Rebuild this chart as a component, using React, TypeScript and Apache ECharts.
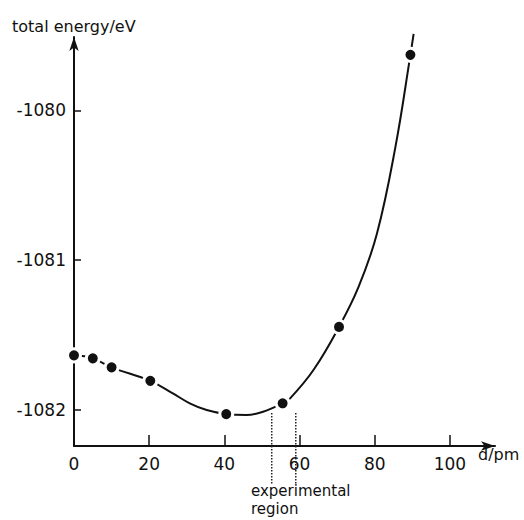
import React, { useEffect, useRef } from "react";
import * as echarts from "echarts";

// computed points (d / pm, total energy / eV)
const pointX = [0, 5, 10, 20.3, 40.5, 55.5, 70.5, 89.5];
const pointY = [-1081.635, -1081.655, -1081.715, -1081.805, -1082.027, -1081.955, -1081.445, -1079.629];

// drawn smooth curve
const curveX = [0, 5, 10, 20.3, 26.3, 30.8, 35.3, 40.5, 45.9, 50.3, 55.5, 57.5, 63.7, 70.5, 75.7, 80.6, 85.5, 89.5, 90.35];
const curveY = [
  -1081.635, -1081.655, -1081.715, -1081.805, -1081.889, -1081.955, -1082.0, -1082.027, -1082.033,
  -1082.011, -1081.955, -1081.922, -1081.733, -1081.445, -1081.178, -1080.822, -1080.245, -1079.629,
  -1079.489,
];

// experimental region boundaries (d / pm)
const regionX = [52.6, 59];
const regionTopY = [-1082.02, -1082.02];
const regionBottomY = -1082.49;

const yTicks = [-1082, -1081, -1080];
const xTickInterval = 20;

const FONT = "DejaVu Sans";

export default function App() {
  const ref = useRef<HTMLDivElement>(null);

  useEffect(() => {
    if (!ref.current) return;
    const chart = echarts.init(ref.current, undefined, { renderer: "svg" });
    const black = "#111";

    const regionSeries = regionX.map((x, i) => ({
      type: "line",
      data: [
        [x, regionTopY[i]],
        [x, regionBottomY],
      ],
      symbol: "none",
      clip: false,
      silent: true,
      lineStyle: { color: "#222", width: 1.5, type: "dotted" },
      z: 1,
    }));

    chart.setOption({
      animation: false,
      backgroundColor: "#fff",
      grid: { left: 74, right: 29, top: 37, bottom: 74 },
      xAxis: {
        type: "value",
        min: 0,
        max: 112,
        interval: xTickInterval,
        name: "d/pm",
        nameLocation: "end",
        nameGap: -17,
        nameTextStyle: {
          fontFamily: FONT,
          fontSize: 16,
          color: black,
          align: "left",
          verticalAlign: "top",
        },
        axisLine: {
          show: true,
          onZero: false,
          symbol: ["none", "arrow"],
          symbolSize: [7, 14],
          lineStyle: { color: black, width: 2 },
        },
        axisTick: { show: true, inside: true, length: 11, lineStyle: { color: black, width: 1.5 } },
        axisLabel: {
          fontFamily: FONT,
          fontSize: 17,
          color: black,
          margin: 9,
          showMaxLabel: false,
          formatter: (v: number) => (v > 100 ? "" : String(v)),
        },
        splitLine: { show: false },
      },
      yAxis: {
        type: "value",
        min: -1082.24,
        max: -1079.51,
        name: "total energy/eV",
        nameLocation: "end",
        nameGap: 11,
        nameTextStyle: {
          fontFamily: FONT,
          fontSize: 16,
          color: black,
          align: "left",
          verticalAlign: "middle",
          padding: [0, 0, 0, -62],
        },
        axisLine: {
          show: true,
          onZero: false,
          symbol: ["none", "arrow"],
          symbolSize: [7, 14],
          lineStyle: { color: black, width: 2 },
        },
        axisTick: {
          show: true,
          inside: true,
          length: 7,
          customValues: yTicks,
          lineStyle: { color: black, width: 1.5 },
        },
        axisLabel: {
          fontFamily: FONT,
          fontSize: 17,
          color: black,
          margin: 8,
          customValues: yTicks,
          formatter: (v: number) => String(v),
        },
        splitLine: { show: false },
      },
      series: [
        {
          type: "line",
          data: curveX.map((x, i) => [x, curveY[i]]),
          smooth: 0.4,
          symbol: "none",
          clip: false,
          lineStyle: { color: black, width: 2 },
          z: 2,
        },
        {
          type: "scatter",
          data: pointX.map((x, i) => [x, pointY[i]]),
          symbolSize: 13,
          itemStyle: { color: black, opacity: 1, borderColor: "#fff", borderWidth: 3 },
          z: 3,
        },
        ...regionSeries,
      ],
      graphic: [
        {
          type: "text",
          left: 251,
          top: 482,
          style: {
            text: "experimental\nregion",
            fontFamily: FONT,
            fontSize: 15,
            lineHeight: 18,
            fill: black,
          },
        },
      ],
    });

    return () => chart.dispose();
  }, []);

  return (
    <div
      ref={ref}
      style={{ position: "fixed", left: 0, top: 0, width: 524, height: 520 }}
    />
  );
}
